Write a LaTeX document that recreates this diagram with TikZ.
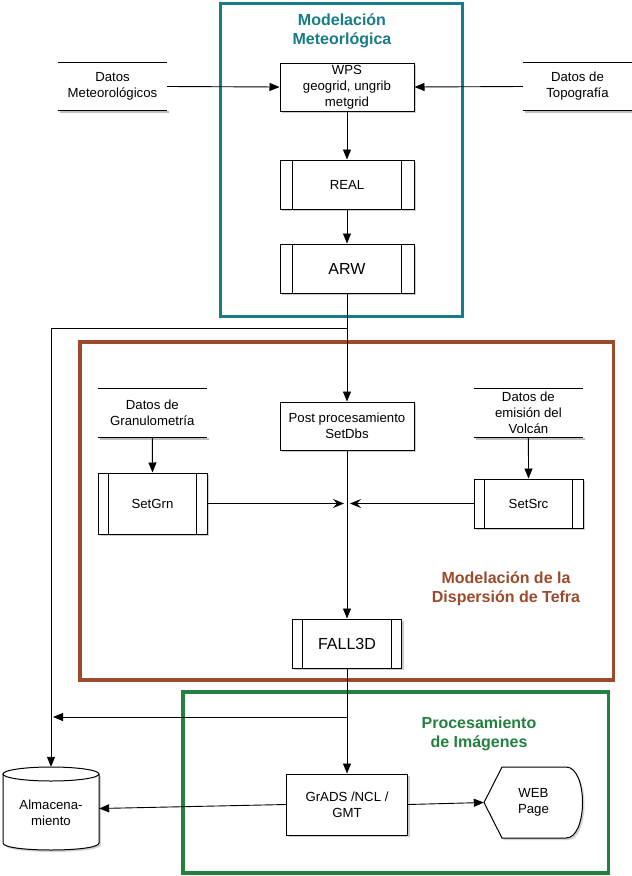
\documentclass[tikz,border=0pt]{standalone}
\usepackage{fontspec}
\setmainfont{Liberation Sans}
\usetikzlibrary{arrows.meta,shadows,calc}
\definecolor{tealc}{HTML}{177C86}
\definecolor{brownc}{HTML}{9B4A2B}
\definecolor{greenc}{HTML}{24803F}
\begin{document}
\begin{tikzpicture}[x=1pt,y=-1pt,
  txt/.style={font=\fontsize{13.2}{16}\selectfont, align=center, inner sep=0pt, text=black},
  bigtxt/.style={font=\fontsize{16}{19}\selectfont},
  box/.style={txt, draw, fill=white, line width=1pt,
    drop shadow={shadow xshift=2pt, shadow yshift=-2pt, fill=black!40, opacity=0.5}},
  datbox/.style={txt, fill=white, minimum width=109pt, minimum height=47pt},
  title/.style={font=\fontsize{16}{19}\selectfont\bfseries, align=center, inner sep=0pt},
  arr/.style={line width=0.9pt, -{Triangle[length=10pt,width=8pt]}},
  sarr/.style={line width=0.9pt, -{Stealth[length=11pt,width=9pt,inset=4pt]}},
  frame/.style={line width=3.6pt}
]
\useasboundingbox (0,0) rectangle (632,876);

% frames
\draw[frame, tealc, line width=3.2pt] (220.5,3.2) rectangle (462.5,316.5);
\draw[frame, brownc] (79.8,342) rectangle (613.4,679.7);
\draw[frame, greenc] (183,692) rectangle (608.5,873);

% titles
\node[title, text=tealc] (t1) at (342,31) {Modelación\\Meteorlógica};
\node[title, text=brownc] (t2) at (506,588.5) {Modelación de la\\Dispersión de Tefra};
\node[title, text=greenc] (t3) at (479,734) {Procesamiento\\de Imágenes};

% data boxes (top and bottom lines only)
\node[datbox] (dm) at (112.5,86.5) {Datos\\Meteorológicos};
\node[datbox] (dt) at (577.5,86.5) {Datos de\\Topografía};
\node[datbox, minimum height=48pt] (dg) at (152.3,413) {Datos de\\Granulometría};
\node[datbox, minimum height=48pt] (dv) at (528.4,413) {Datos de\\emisión del\\Volcán};
\foreach \n in {dm,dt,dg,dv}{
  \draw[black!25, line width=2pt] ([xshift=2pt,yshift=-1.6pt]\n.south west) -- ([xshift=2pt,yshift=-1.6pt]\n.south east);
  \draw[line width=1pt] (\n.north west) -- (\n.north east);
  \draw[line width=1pt] (\n.south west) -- (\n.south east);
}

% process boxes
\node[box, minimum width=134pt, minimum height=48pt] (wps) at (347,87) {WPS\\geogrid, ungrib\\metgrid};
\node[box, minimum width=134pt, minimum height=49pt] (real) at (347,184.5) {REAL};
\node[box, bigtxt, minimum width=134pt, minimum height=49pt] (arw) at (347,268.5) {ARW};
\node[box, minimum width=134pt, minimum height=48pt] (post) at (347,426) {Post procesamiento\\SetDbs};
\node[box, minimum width=109pt, minimum height=61pt] (sg) at (152.5,503.5) {SetGrn};
\node[box, minimum width=109pt, minimum height=49pt] (ss) at (528.5,503.5) {SetSrc};
\node[box, bigtxt, minimum width=109.5pt, minimum height=49pt] (fall) at (347,643.5) {FALL3D};
\node[box, minimum width=121pt, minimum height=61pt] (grads) at (347,804.5) {GrADS /NCL /\\GMT};
\foreach \n/\d in {real/13,arw/13,sg/11,ss/11,fall/11}{
  \draw[line width=1pt] ([xshift=\d pt]\n.north west) -- ([xshift=\d pt]\n.south west);
  \draw[line width=1pt] ([xshift=-\d pt]\n.north east) -- ([xshift=-\d pt]\n.south east);
}

% storage cylinder
\fill[black!35, opacity=0.5, xshift=2pt, yshift=-2pt] (3,774) -- (3,843) .. controls (3,852.33) and (99,852.33) .. (99,843) -- (99,774) -- cycle;
\filldraw[fill=white, line width=1pt] (3,774) -- (3,843) .. controls (3,852.33) and (99,852.33) .. (99,843) -- (99,774);
\filldraw[fill=white, line width=1pt] (51,774) ellipse [x radius=48pt, y radius=7pt];
\node[txt, minimum width=96pt, minimum height=83pt] (st) at (51,808.5) {};
\node[txt] (stl) at (51,813) {Almacena-\\miento};

% web page display shape
\fill[black!35, opacity=0.5, xshift=2pt, yshift=-2pt] (484,802.5) -- (502,767) -- (566,767) .. controls (588,767) and (588,838) .. (566,838) -- (502,838) -- cycle;
\filldraw[fill=white, line width=1pt] (484,802.5) -- (502,767) -- (566,767) .. controls (588,767) and (588,838) .. (566,838) -- (502,838) -- cycle;
\node[txt, minimum width=99pt, minimum height=71pt] (wp) at (533.5,802.5) {WEB\\Page};

% connectors
\coordinate (j1) at (347,328);
\coordinate (j2) at (347,717);
\coordinate (ml) at (344,503.5);
\coordinate (mr) at (350,503.5);
\coordinate (jl) at (53,717);

\draw[arr] (dm.east) -- (wps.west);
\draw[arr] (dt.west) -- (wps.east);
\draw[arr] (wps.south) -- (real.north);
\draw[arr] (real.south) -- (arw.north);
\draw[arr] (arw.south) -- (post.north);
\draw[arr] (j1) -| (st.north);
\draw[arr] (post.south) -- (fall.north);
\draw[sarr] (sg.east) -- (ml);
\draw[sarr] (ss.west) -- (mr);
\draw[arr] (dg.south) -- (sg.north);
\draw[arr] (dv.south) -- (ss.north);
\draw[arr] (fall.south) -- (grads.north);
\draw[arr] (j2) -- (jl);
\draw[arr] (grads.west) -- (st.east);
\draw[arr] (grads.east) -- (wp.west);
\end{tikzpicture}
\end{document}
